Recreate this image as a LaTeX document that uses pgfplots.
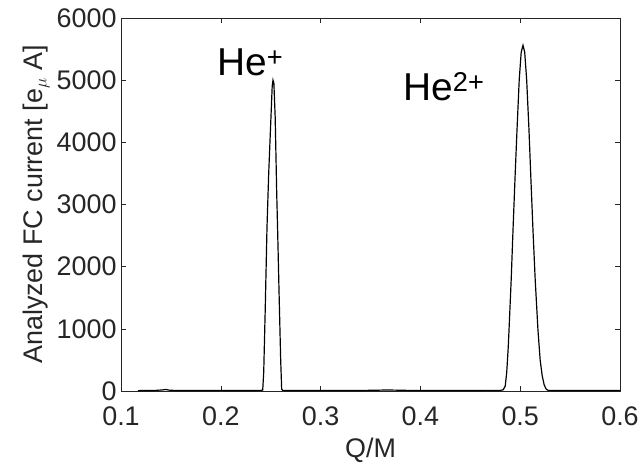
\documentclass[border=0pt]{standalone}
\usepackage{pgfplots}
\pgfplotsset{compat=1.18}
\usepackage{fontspec}
\setmainfont{Liberation Sans}
\definecolor{axgray}{RGB}{38,38,38}

\begin{document}
\begin{tikzpicture}
  \path[use as bounding box] (-121bp,-73bp) rectangle (519bp,391bp);
  \begin{axis}[
    scale only axis,
    width=499bp, height=373bp,
    xmin=0.1, xmax=0.6, ymin=0, ymax=6000,
    xtick={0.1,0.2,0.3,0.4,0.5,0.6},
    ytick={0,1000,2000,3000,4000,5000,6000},
    xticklabels={0.1,0.2,0.3,0.4,0.5,0.6},
    yticklabels={0,1000,2000,3000,4000,5000,6000},
    tick align=inside,
    major tick length=5bp,
    axis line style={draw=axgray, line width=0.6pt},
    every tick/.style={draw=axgray, line width=0.6pt},
    tick label style={font=\fontsize{27}{30}\selectfont, text=axgray},
    label style={font=\fontsize{27}{30}\selectfont, text=axgray},
    xticklabel style={yshift=-12bp},
    yticklabel style={xshift=-1bp},
    xlabel={Q/M},
    ylabel={Analyzed FC current [e$_\mu$ A]},
    xlabel style={yshift=-6bp},
    ylabel style={yshift=0bp},
    clip=true,
  ]
  \addplot[black, line width=1.2pt] coordinates {
    (0.117,6) (0.125,8) (0.135,10) (0.142,18) (0.145,25) (0.148,14)
    (0.155,8) (0.170,9) (0.185,7) (0.200,10) (0.215,8) (0.230,9) (0.240,10)
    (0.2420,15) (0.2430,300) (0.2445,1300) (0.2463,2640) (0.2480,3500)
    (0.2500,4300) (0.2515,4900) (0.2523,5000) (0.2532,4950) (0.2545,4400)
    (0.2560,3200) (0.2570,2550) (0.2585,1500) (0.2600,500) (0.2610,30)
    (0.2620,10) (0.270,8) (0.285,9) (0.300,7) (0.320,8) (0.340,9)
    (0.355,12) (0.365,16) (0.375,14) (0.390,9) (0.410,8) (0.430,9)
    (0.450,8) (0.465,10) (0.475,9) (0.480,10)
    (0.483,20) (0.485,80) (0.4865,300) (0.488,700) (0.4888,980) (0.491,1800)
    (0.4928,2590) (0.495,3500) (0.4968,4200) (0.499,5000) (0.501,5450)
    (0.5028,5560) (0.5045,5450) (0.5065,5000) (0.5088,4200) (0.511,3300)
    (0.5128,2590) (0.515,1800) (0.5178,980) (0.520,500) (0.522,250)
    (0.524,100) (0.526,30) (0.528,10) (0.540,9) (0.555,8) (0.570,9)
    (0.585,8) (0.600,9)
  };
  \node[anchor=base west, inner sep=0pt, font=\fontsize{39}{42}\selectfont]
    at (axis cs:0.1962,5080) {He\textsuperscript{+}};
  \node[anchor=base west, inner sep=0pt, font=\fontsize{39}{42}\selectfont]
    at (axis cs:0.3826,4678) {He\textsuperscript{2+}};
  \end{axis}
\end{tikzpicture}
\end{document}
